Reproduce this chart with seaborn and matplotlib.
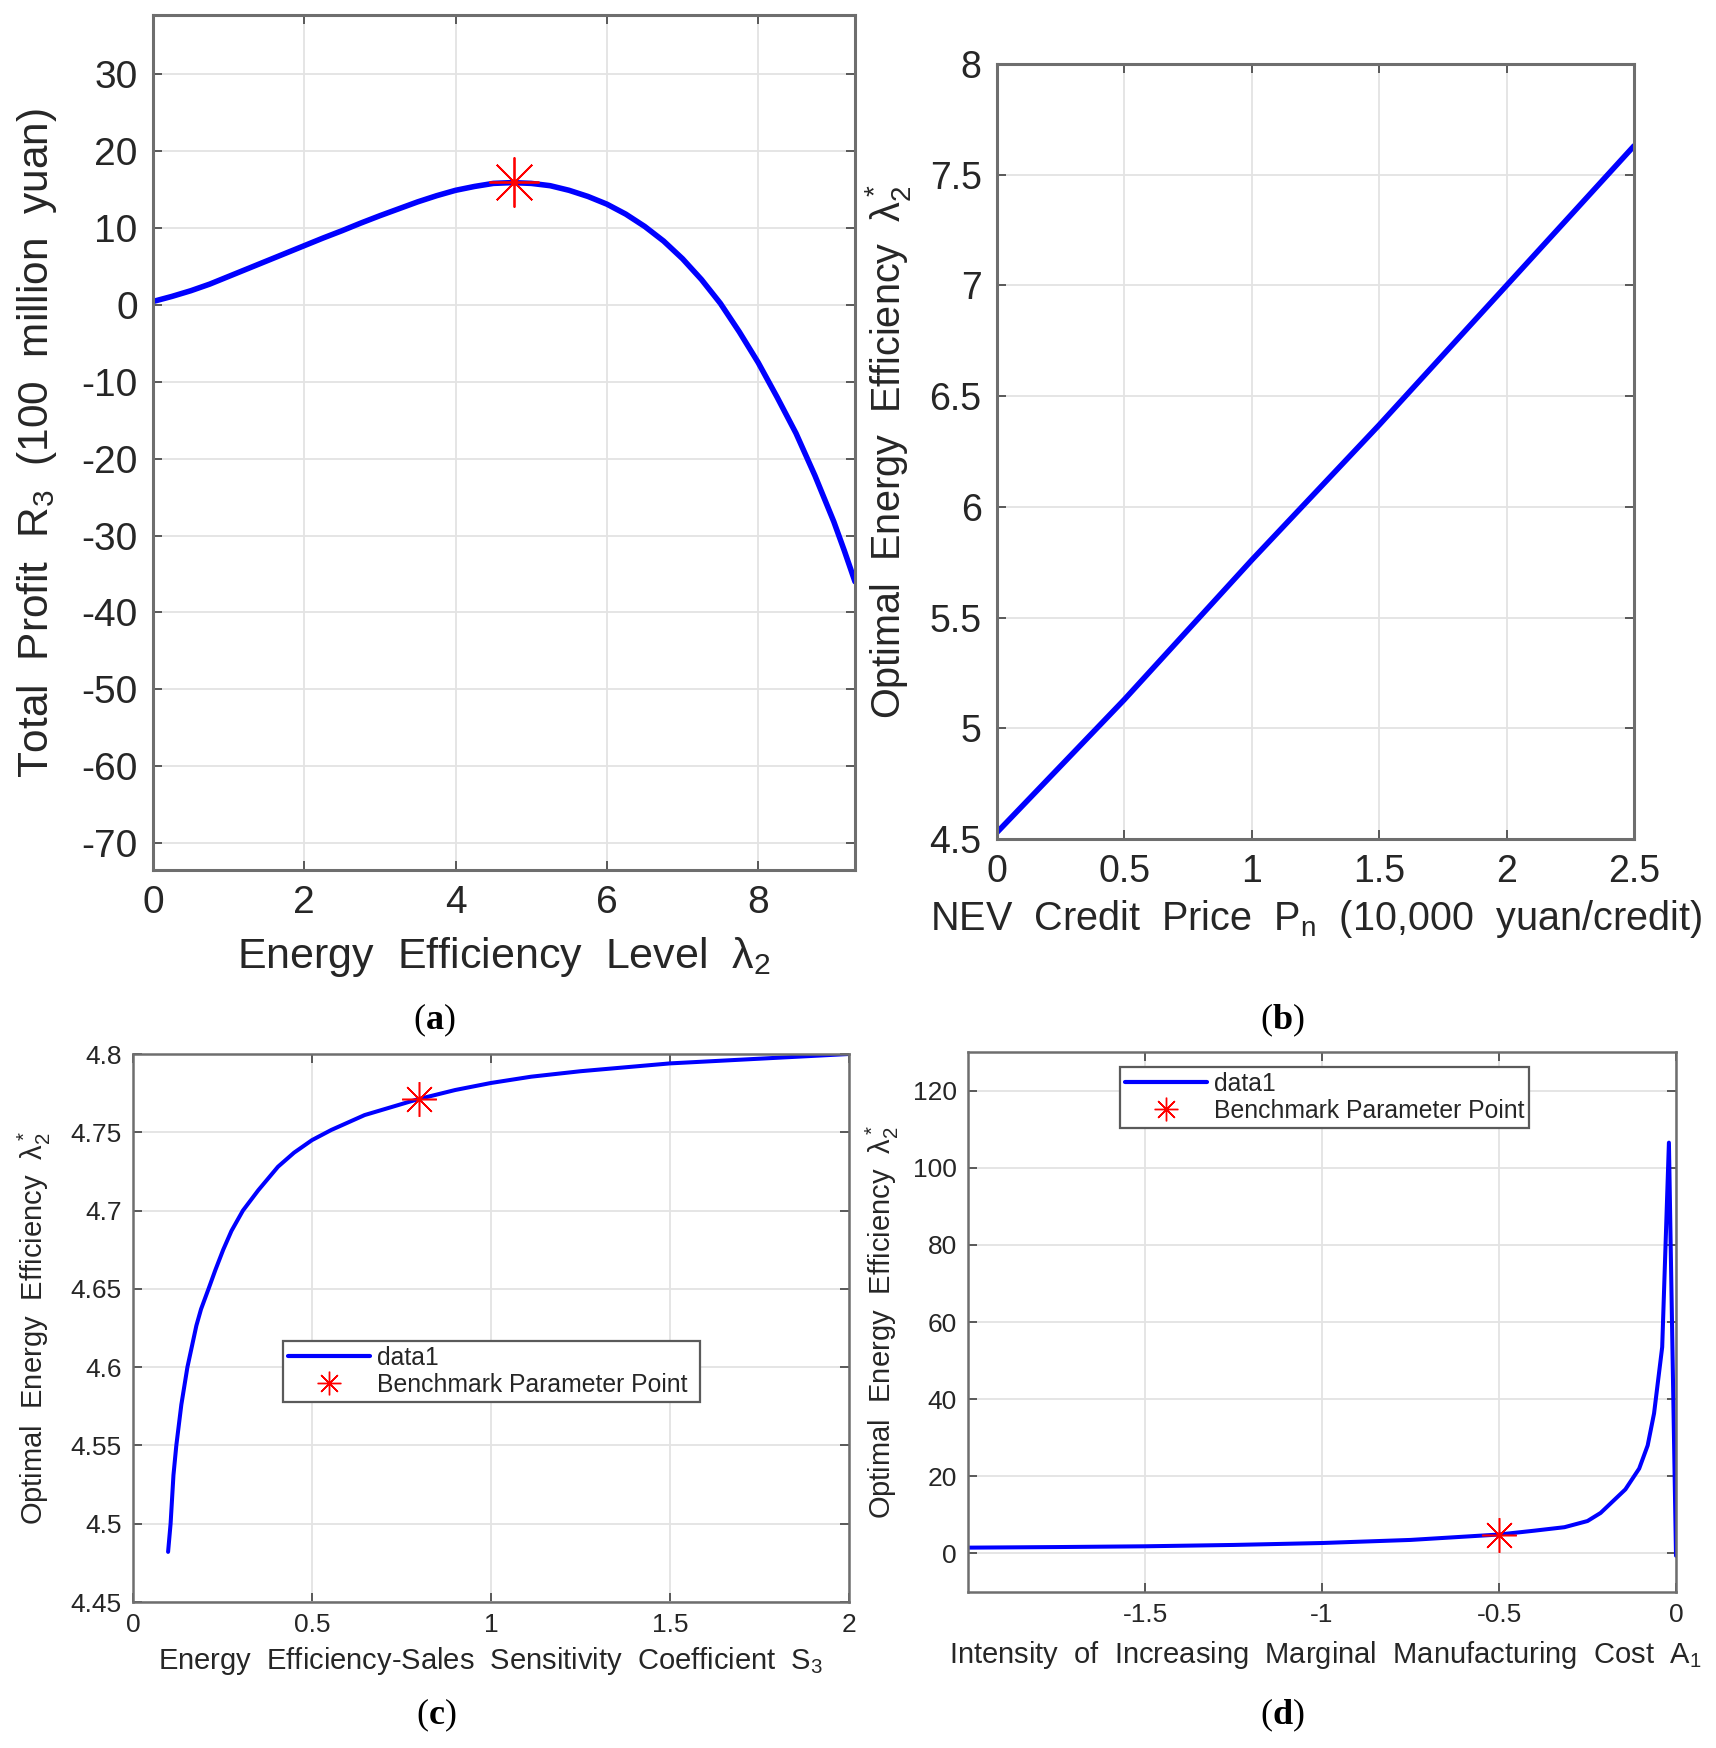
import numpy as np
import pandas as pd
import matplotlib
matplotlib.use("Agg")
import matplotlib.pyplot as plt
from matplotlib.lines import Line2D
from matplotlib.ticker import FuncFormatter
import seaborn as sns

# ---------------- data ----------------
# (a) total profit vs energy efficiency level
a_x = [0, 0.25, 0.5, 0.75, 1, 1.25, 1.5, 1.75, 2, 2.25, 2.5, 2.75, 3, 3.25, 3.5, 3.75, 4,
       4.25, 4.5, 4.75, 5, 5.25, 5.5, 5.75, 6, 6.25, 6.5, 6.75, 7, 7.25, 7.5, 7.75, 8,
       8.25, 8.5, 8.75, 9, 9.14, 9.28]
a_y = [0.44, 1.1, 1.84, 2.7, 3.7, 4.7, 5.7, 6.7, 7.7, 8.7, 9.65, 10.65, 11.6, 12.5, 13.4, 14.2, 14.9,
       15.4, 15.8, 15.9, 15.8, 15.5, 14.9, 14.1, 13.1, 11.8, 10.2, 8.3, 6.0, 3.3, 0.2, -3.5, -7.5,
       -12.0, -16.7, -22.2, -28.2, -32.0, -36.0]
a_star = (4.77, 16.0)

# (b) optimal energy efficiency vs NEV credit price
b_x = [0, 0.5, 1, 1.5, 2, 2.5]
b_y = [4.53, 5.13, 5.76, 6.37, 7.0, 7.63]

# (c) optimal energy efficiency vs sensitivity coefficient S3
c_x = [0.098, 0.105, 0.113, 0.121, 0.135, 0.152, 0.177, 0.19, 0.211, 0.23, 0.252, 0.275, 0.307,
       0.35, 0.405, 0.45, 0.5, 0.554, 0.647, 0.794, 0.9, 1.0, 1.112, 1.25, 1.5, 1.75, 2.0]
c_y = [4.482, 4.5, 4.531, 4.55, 4.576, 4.6, 4.6265, 4.637, 4.65, 4.662, 4.675, 4.687, 4.7,
       4.713, 4.728, 4.737, 4.745, 4.7515, 4.761, 4.771, 4.777, 4.7815, 4.7855, 4.789, 4.794, 4.797, 4.8]
c_star = (0.8, 4.771)

# (d) optimal energy efficiency vs marginal cost intensity A1
d_x = [-2, -1.75, -1.5, -1.25, -1, -0.75, -0.5, -0.4, -0.315, -0.25, -0.213, -0.143, -0.104,
       -0.08, -0.062, -0.039, -0.02, 0]
d_y = [1.5, 1.65, 1.85, 2.2, 2.7, 3.5, 4.9, 5.9, 6.8, 8.4, 10.5, 16.6, 22.0,
       28.0, 36.3, 53.5, 106.5, -0.6]
d_star = (-0.5, 4.9)

legend_labels = ["data1", "Benchmark Parameter Point"]

# ---------------- style ----------------
sns.set_theme(style="white")
plt.rcParams["font.family"] = ["Liberation Sans", "DejaVu Sans"]
plt.rcParams["mathtext.fontset"] = "custom"
plt.rcParams["mathtext.rm"] = "Liberation Sans"
plt.rcParams["mathtext.it"] = "Liberation Sans:italic"
plt.rcParams["mathtext.bf"] = "Liberation Serif:bold"

TXT = "#262626"
SPINE = "#6e6e6e"
GRID = "#e3e3e3"
BLUE = (0, 0, 1)
RED = (1, 0, 0)
STAR = (8, 2, 0)

W, H = 1716, 1748
fig = plt.figure(figsize=(W / 100, H / 100), dpi=100)
fig.patch.set_facecolor("white")


def px_axes(left, top, right, bottom):
    return fig.add_axes([left / W, 1 - bottom / H, (right - left) / W, (bottom - top) / H])


def style_axes(ax, tick_size, pad, lw_spine):
    for s in ax.spines.values():
        s.set_visible(True)
        s.set_color(SPINE)
        s.set_linewidth(lw_spine)
    ax.tick_params(axis="both", which="both", direction="in", length=6.5, width=1.1,
                   color="#333333", labelcolor=TXT, labelsize=tick_size, pad=pad,
                   top=True, right=True, bottom=True, left=True)
    ax.grid(True, color=GRID, linewidth=1.3)
    ax.set_axisbelow(True)


def gfmt(v, pos):
    return "%g" % round(v, 3)


lam = r"$\mathregular{λ_2^*}$"

# ---------------- (a) ----------------
axa = px_axes(153, 15, 855, 870)
style_axes(axa, 28, 11, 2.2)
sns.lineplot(x=a_x, y=a_y, ax=axa, color=BLUE, linewidth=4.0, sort=False, estimator=None)
axa.plot([a_star[0]], [a_star[1]], marker=STAR, markersize=36, color=RED,
         markeredgewidth=1.3, linestyle="none", zorder=5)
axa.set_xlim(0, 9.28)
axa.set_ylim(-73.5, 37.7)
axa.set_xticks([0, 2, 4, 6, 8])
axa.set_yticks(np.arange(-70, 31, 10))
axa.xaxis.set_major_formatter(FuncFormatter(gfmt))
axa.yaxis.set_major_formatter(FuncFormatter(gfmt))
axa.set_xlabel(r"Energy  Efficiency  Level  $\mathregular{λ_2}$", fontsize=31, color=TXT, va="center")
axa.set_ylabel(r"Total  Profit  $\mathregular{R_3}$  (100  million  yuan)", fontsize=30.5, color=TXT, va="center")
axa.xaxis.set_label_coords(504 / W, 1 - 957 / H, transform=fig.transFigure)
axa.yaxis.set_label_coords(37 / W, 1 - 443 / H, transform=fig.transFigure)

# ---------------- (b) ----------------
axb = px_axes(997, 64, 1634, 839)
style_axes(axb, 27, 11, 2.2)
sns.lineplot(x=b_x, y=b_y, ax=axb, color=BLUE, linewidth=4.0, sort=False, estimator=None)
axb.set_xlim(0, 2.5)
axb.set_ylim(4.5, 8)
axb.set_xticks(np.arange(0, 2.51, 0.5))
axb.set_yticks(np.arange(4.5, 8.01, 0.5))
axb.xaxis.set_major_formatter(FuncFormatter(gfmt))
axb.yaxis.set_major_formatter(FuncFormatter(gfmt))
axb.set_xlabel(r"NEV  Credit  Price  $\mathregular{P_n}$  (10,000  yuan/credit)", fontsize=28.5, color=TXT, va="center")
axb.set_ylabel("Optimal  Energy  Efficiency  " + lam, fontsize=28.5, color=TXT, va="center")
axb.xaxis.set_label_coords(1316 / W, 1 - 919 / H, transform=fig.transFigure)
axb.yaxis.set_label_coords(888 / W, 1 - 452 / H, transform=fig.transFigure)


def add_legend(ax, bbox):
    handles = [
        Line2D([], [], color=BLUE, linewidth=3.0),
        Line2D([], [], color=RED, marker=STAR, markersize=17, markeredgewidth=1.0, linestyle="none"),
    ]
    leg = ax.legend(handles, legend_labels, loc="upper left", bbox_to_anchor=bbox, mode="expand",
                    borderaxespad=0, fontsize=17.8, frameon=True, fancybox=False, framealpha=1,
                    edgecolor="#5a5a5a", handlelength=3.3, handletextpad=0.3,
                    borderpad=0.2, labelspacing=0.12, labelcolor=TXT)
    leg.get_frame().set_linewidth(1.6)
    return leg


# ---------------- (c) ----------------
axc = px_axes(133, 1054, 849, 1602)
style_axes(axc, 19, 8, 1.8)
sns.lineplot(x=c_x, y=c_y, ax=axc, color=BLUE, linewidth=2.9, sort=False, estimator=None)
axc.plot([c_star[0]], [c_star[1]], marker=STAR, markersize=25, color=RED,
         markeredgewidth=1.1, linestyle="none", zorder=5)
axc.set_xlim(0, 2)
axc.set_ylim(4.45, 4.8)
axc.set_xticks(np.arange(0, 2.01, 0.5))
axc.set_yticks(np.arange(4.45, 4.801, 0.05))
axc.xaxis.set_major_formatter(FuncFormatter(gfmt))
axc.yaxis.set_major_formatter(FuncFormatter(gfmt))
axc.set_xlabel(r"Energy  Efficiency-Sales  Sensitivity  Coefficient  $\mathregular{S_3}$", fontsize=21, color=TXT, va="center")
axc.set_ylabel("Optimal  Energy  Efficiency  " + lam, fontsize=21, color=TXT, va="center")
axc.xaxis.set_label_coords(491 / W, 1 - 1661 / H, transform=fig.transFigure)
axc.yaxis.set_label_coords(34 / W, 1 - 1328 / H, transform=fig.transFigure)
add_legend(axc, (0.2095, 0.30, 0.5825, 0.176))

# ---------------- (d) ----------------
axd = px_axes(968, 1052, 1676, 1592)
style_axes(axd, 19, 8, 1.8)
sns.lineplot(x=d_x, y=d_y, ax=axd, color=BLUE, linewidth=2.9, sort=False, estimator=None)
axd.plot([d_star[0]], [d_star[1]], marker=STAR, markersize=25, color=RED,
         markeredgewidth=1.1, linestyle="none", zorder=5)
axd.set_xlim(-2, 0)
axd.set_ylim(-10, 130)
axd.set_xticks([-1.5, -1, -0.5, 0])
axd.set_yticks(np.arange(0, 121, 20))
axd.xaxis.set_major_formatter(FuncFormatter(gfmt))
axd.yaxis.set_major_formatter(FuncFormatter(gfmt))
axd.set_xlabel(r"Intensity  of  Increasing  Marginal  Manufacturing  Cost  $\mathregular{A_1}$", fontsize=21, color=TXT, va="center")
axd.set_ylabel("Optimal  Energy  Efficiency  " + lam, fontsize=21, color=TXT, va="center")
axd.xaxis.set_label_coords(1325 / W, 1 - 1655 / H, transform=fig.transFigure)
axd.yaxis.set_label_coords(882 / W, 1 - 1322 / H, transform=fig.transFigure)
add_legend(axd, (0.2147, 0.75, 0.5773, 0.222))

# ---------------- panel letters ----------------
for lab, (cx, cy) in {"a": (434, 1020), "b": (1282, 1020), "c": (436, 1715), "d": (1282, 1715)}.items():
    fig.text(cx / W, 1 - cy / H, r"($\mathbf{%s}$)" % lab, fontsize=26, family="Liberation Serif",
             color="black", ha="center", va="center")

fig.savefig("out.png", dpi=100, facecolor="white")
